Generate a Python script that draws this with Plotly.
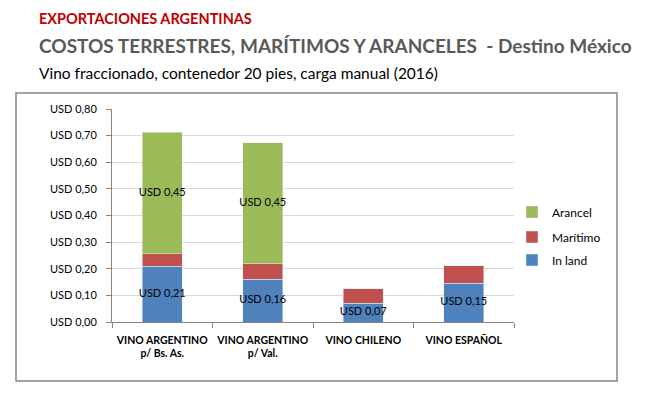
import plotly.graph_objects as go

categories = ["VINO ARGENTINO<br>p/ Bs. As.", "VINO ARGENTINO<br>p/ Val.", "VINO CHILENO", "VINO ESPAÑOL"]
inland = [0.21, 0.16, 0.07, 0.145]
maritimo = [0.047, 0.058, 0.055, 0.067]
arancel = [0.455, 0.455, 0, 0]
inland_labels = ["USD 0,21", "USD 0,16", "USD 0,07", "USD 0,15"]
arancel_labels = ["USD 0,45", "USD 0,45"]
y_ticks = [0, 0.1, 0.2, 0.3, 0.4, 0.5, 0.6, 0.7, 0.8]
y_tick_labels = ["USD 0,00", "USD 0,10", "USD 0,20", "USD 0,30", "USD 0,40",
                 "USD 0,50", "USD 0,60", "USD 0,70", "USD 0,80"]

# the page body adds an 8px margin; size the figure so it fits the window
OFF = 8
W, H = 647 - OFF, 395 - OFF
L, R, T, B = 112 - OFF, 514 - OFF, 109 - OFF, 322 - OFF
pw, ph = R - L, B - T

def px(x):  # x in reference window pixels
    return (x - OFF - L) / pw

def py(y):
    return (B - (y - OFF)) / ph

font = "Lato, 'Open Sans', sans-serif"

fig = go.Figure()
fig.add_trace(go.Bar(name="In land", x=categories, y=inland, marker_color="#4F81BD", width=0.4, legend="legend3"))
fig.add_trace(go.Bar(name="Marítimo", x=categories, y=maritimo, marker_color="#C0504D", width=0.4, legend="legend2"))
fig.add_trace(go.Bar(name="Arancel", x=categories, y=arancel, marker_color="#9BBB59", width=0.4, legend="legend"))

# labels at segment centers
fig.add_trace(go.Scatter(x=categories, y=[v / 2 for v in inland], text=inland_labels, mode="text",
                         textfont=dict(size=11, color="#000000", family=font), showlegend=False, hoverinfo="skip"))
arancel_mid = [i + m + a / 2 for i, m, a in zip(inland, maritimo, arancel)]
fig.add_trace(go.Scatter(x=categories[:2], y=arancel_mid[:2], text=arancel_labels, mode="text",
                         textfont=dict(size=11, color="#000000", family=font), showlegend=False, hoverinfo="skip"))

leg = dict(x=px(512), xanchor="left", yanchor="middle", font=dict(size=12, color="#000000", family=font),
           itemwidth=30, bgcolor="rgba(0,0,0,0)")
fig.update_layout(
    width=W, height=H,
    margin=dict(l=L, r=W - R, t=T, b=H - B, autoexpand=False),
    paper_bgcolor="white", plot_bgcolor="white",
    barmode="stack",
    font=dict(family=font, size=11, color="#000000"),
    legend=dict(leg, y=py(212)),
    legend2=dict(leg, y=py(237)),
    legend3=dict(leg, y=py(260)),
    showlegend=True,
)
fig.update_xaxes(showline=True, linecolor="#868686", linewidth=1, ticks="outside", tickson="boundaries",
                 ticklen=5, tickcolor="#868686", showgrid=False, tickangle=0, automargin=False,
                 ticklabelstandoff=8,
                 tickfont=dict(size=10.5, color="#000000", family=font, weight="bold"))
fig.update_yaxes(range=[0, 0.8], tickvals=y_ticks, ticktext=y_tick_labels, automargin=False,
                 showline=True, linecolor="#868686", linewidth=1, ticks="outside", ticklen=5,
                 tickcolor="#868686", showgrid=True, gridcolor="#D9D9D9", zeroline=False,
                 ticklabelstandoff=7,
                 tickfont=dict(size=11, color="#000000", family=font))

# chart border
fig.add_shape(type="rect", xref="paper", yref="paper",
              x0=px(16), x1=px(617), y0=py(381), y1=py(93),
              line=dict(color="#868686", width=1.5), fillcolor="rgba(0,0,0,0)", layer="below")

fig.add_annotation(text="<b>EXPORTACIONES ARGENTINAS</b>", xref="paper", yref="paper",
                   x=px(37), y=py(18), xanchor="left", yanchor="middle", showarrow=False,
                   font=dict(size=14.5, color="#C00000", family=font))
fig.add_annotation(text="<b>COSTOS TERRESTRES, MARÍTIMOS Y ARANCELES  - Destino México</b>", xref="paper", yref="paper",
                   x=px(37), y=py(45), xanchor="left", yanchor="middle", showarrow=False,
                   font=dict(size=19, color="#595959", family=font))
fig.add_annotation(text="Vino fraccionado, contenedor 20 pies, carga manual (2016)", xref="paper", yref="paper",
                   x=px(37), y=py(73), xanchor="left", yanchor="middle", showarrow=False,
                   font=dict(size=15.5, color="#000000", family=font))

fig.write_html("out.html")
